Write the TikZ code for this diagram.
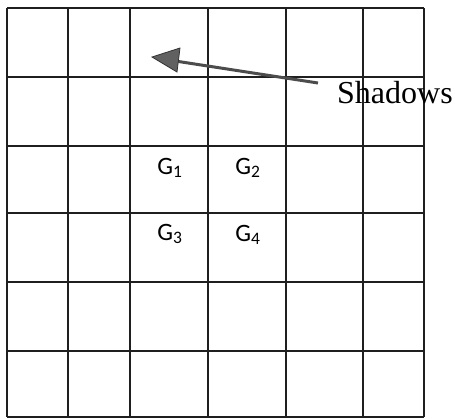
\documentclass[tikz,border=0pt]{standalone}
\usepackage{fontspec}
\setmainfont{Liberation Serif}
\newfontfamily\carlitofont{Carlito}
\tikzset{
  gridline/.style={line width=2.4pt, draw=black!88},
  glabel/.style={font=\carlitofont\fontsize{25}{25}\selectfont, inner sep=0pt, anchor=base},
  shadowlabel/.style={font=\fontsize{32}{32}\selectfont, inner sep=0pt, anchor=base west},
  shadowarrow/.style={draw=black!70, line width=3pt},
  arrowhead/.style={fill=black!62, draw=black!80, line width=0.8pt, line join=miter}
}
\begin{document}
\begin{tikzpicture}[x=1pt,y=-1pt]
\useasboundingbox (0,0) rectangle (455,418);
% grid
\foreach \x in {7,68,130,208,286,363,424}
  \draw[gridline] (\x,8) -- (\x,417);
\foreach \y in {8,77,146,213,282,351,417}
  \draw[gridline] (7,\y) -- (424,\y);
% labels
\node[glabel] (g1) at (170,174) {G\textsubscript{1}};
\node[glabel] (g2) at (248,174) {G\textsubscript{2}};
\node[glabel] (g3) at (170,240) {G\textsubscript{3}};
\node[glabel] (g4) at (248,241) {G\textsubscript{4}};
\node[shadowlabel] (shadows) at (337,103) {Shadows};
% arrow
\coordinate (tail) at (318,83);
\coordinate (tip) at (152,57);
\coordinate (hb) at (172,60.5);
\draw[shadowarrow] (tail) -- (hb);
\draw[arrowhead] (tip) -- (180,48) -- (177,72) -- cycle;
\end{tikzpicture}
\end{document}
